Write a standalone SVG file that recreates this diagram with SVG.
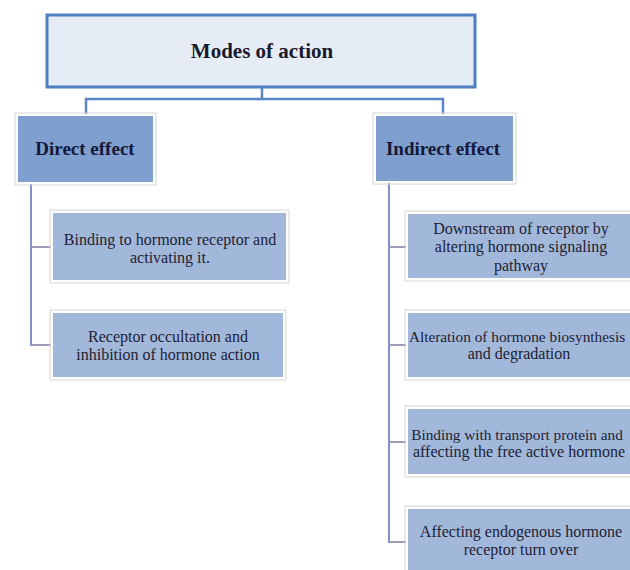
<svg xmlns="http://www.w3.org/2000/svg" width="630" height="570" viewBox="0 0 630 570">
<style>
.top{fill:#e6ecf6;stroke:#4f7fc0;stroke-width:3}
.l2{fill:#7f9fcf;stroke:#ffffff;stroke-width:2}
.l3{fill:#a2b8da;stroke:#ffffff;stroke-width:2}
.sh{fill:none;stroke:#d6d6d6;stroke-width:1}
.t1{font-family:"Liberation Serif","Times New Roman",serif;font-weight:bold;font-size:21px;fill:#1a1a2e;text-anchor:middle}
.t2{font-family:"Liberation Serif","Times New Roman",serif;font-weight:bold;font-size:19px;fill:#14183a;text-anchor:middle}
.t3{font-family:"Liberation Serif","Times New Roman",serif;font-size:16px;fill:#1e2233;text-anchor:middle}
.sm{font-size:15.3px}
.c1{fill:none;stroke:#5b86c5;stroke-width:2.5}
.c2{fill:none;stroke:#7f8fc8;stroke-width:2}
.c3{fill:none;stroke:#9a9cb8;stroke-width:2}
</style>
<rect width="630" height="570" fill="#ffffff"/>
<g id="connectors">
<polyline class="c1" points="262,87 262,99 86,99 86,114"/>
<polyline class="c1" points="262,99 443,99 443,114"/>
<line class="c2" x1="31" y1="183" x2="31" y2="346"/>
<line class="c3" x1="31" y1="247" x2="52" y2="247"/>
<line class="c3" x1="31" y1="345" x2="52" y2="345"/>
<line class="c2" x1="389" y1="182" x2="389" y2="543"/>
<line class="c3" x1="389" y1="247" x2="407" y2="247"/>
<line class="c3" x1="389" y1="345" x2="407" y2="345"/>
<line class="c3" x1="389" y1="442" x2="407" y2="442"/>
<line class="c3" x1="389" y1="542" x2="407" y2="542"/>
</g>
<g id="modes">
<rect class="top" x="47" y="15" width="428" height="72"/>
<text class="t1" x="262" y="58">Modes of action</text>
</g>
<g id="direct">
<rect class="sh" x="15" y="113" width="141" height="72"/>
<rect class="l2" x="17" y="115" width="137" height="68"/>
<text class="t2" x="85" y="155">Direct effect</text>
</g>
<g id="indirect">
<rect class="sh" x="373" y="113" width="143" height="71"/>
<rect class="l2" x="375" y="115" width="139" height="67"/>
<text class="t2" x="443" y="155">Indirect effect</text>
</g>
<g id="d1">
<rect class="sh" x="50" y="210" width="239" height="73"/>
<rect class="l3" x="52" y="212" width="235" height="69"/>
<text class="t3" x="170" y="245">Binding to hormone receptor and</text>
<text class="t3" x="170" y="263">activating it.</text>
</g>
<g id="d2">
<rect class="sh" x="50" y="310" width="236" height="70"/>
<rect class="l3" x="52" y="312" width="232" height="66"/>
<text class="t3" x="168" y="342">Receptor occultation and</text>
<text class="t3" x="168" y="360">inhibition of hormone action</text>
</g>
<g id="i1">
<rect class="sh" x="405" y="211" width="240" height="70"/>
<rect class="l3" x="407" y="213" width="236" height="66"/>
<text class="t3" x="521" y="234">Downstream of receptor by</text>
<text class="t3" x="521" y="252">altering hormone signaling</text>
<text class="t3" x="521" y="271">pathway</text>
</g>
<g id="i2">
<rect class="sh" x="405" y="310" width="240" height="70"/>
<rect class="l3" x="407" y="312" width="236" height="66"/>
<text class="t3 sm" x="517" y="342">Alteration of hormone biosynthesis</text>
<text class="t3" x="519" y="359">and degradation</text>
</g>
<g id="i3">
<rect class="sh" x="405" y="406" width="240" height="71"/>
<rect class="l3" x="407" y="408" width="236" height="67"/>
<text class="t3 sm" x="517" y="440">Binding with transport protein and</text>
<text class="t3" x="519" y="457">affecting the free active hormone</text>
</g>
<g id="i4">
<rect class="sh" x="405" y="506" width="240" height="80"/>
<rect class="l3" x="407" y="508" width="236" height="76"/>
<text class="t3" x="521" y="537">Affecting endogenous hormone</text>
<text class="t3" x="521" y="555">receptor turn over</text>
</g>
</svg>
